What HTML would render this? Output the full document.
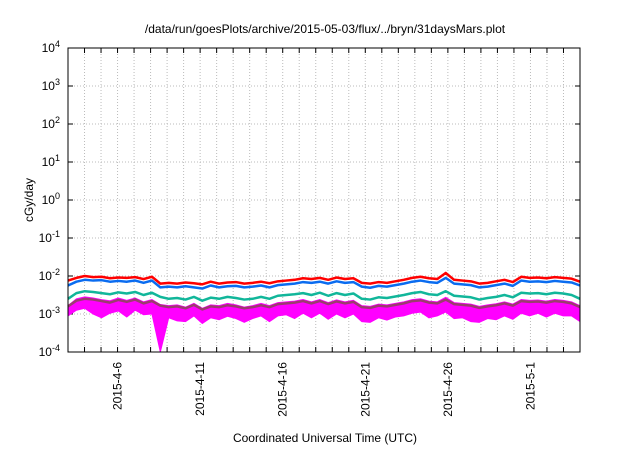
<!DOCTYPE html>
<html><head><meta charset="utf-8"><style>
body{margin:0;background:#fff;width:640px;height:448px;overflow:hidden}
svg{font-family:"Liberation Sans",sans-serif}
</style></head><body>
<svg id="c" width="640" height="448"></svg>
<script>
const yTicks=[4,3,2,1,0,-1,-2,-3,-4];
const xLabels=["2015-4-6","2015-4-11","2015-4-16","2015-4-21","2015-4-26","2015-5-1"];
const xLabelDays=[3,8,13,18,23,28];
const red=[-2.12,-2.05,-2.0,-2.03,-2.02,-2.06,-2.04,-2.05,-2.03,-2.08,-2.02,-2.2,-2.18,-2.2,-2.17,-2.19,-2.22,-2.15,-2.2,-2.17,-2.16,-2.2,-2.18,-2.15,-2.19,-2.14,-2.12,-2.1,-2.06,-2.08,-2.05,-2.1,-2.04,-2.08,-2.06,-2.18,-2.2,-2.16,-2.18,-2.14,-2.1,-2.05,-2.02,-2.06,-2.08,-1.92,-2.1,-2.12,-2.14,-2.2,-2.18,-2.14,-2.1,-2.16,-2.02,-2.05,-2.04,-2.06,-2.03,-2.05,-2.07,-2.15];
const blue=[-2.25,-2.15,-2.1,-2.12,-2.11,-2.15,-2.13,-2.15,-2.12,-2.18,-2.12,-2.3,-2.28,-2.3,-2.27,-2.3,-2.33,-2.25,-2.3,-2.27,-2.26,-2.3,-2.28,-2.25,-2.3,-2.24,-2.22,-2.2,-2.16,-2.18,-2.15,-2.2,-2.14,-2.18,-2.16,-2.28,-2.31,-2.26,-2.28,-2.24,-2.2,-2.15,-2.12,-2.16,-2.18,-2.05,-2.2,-2.22,-2.24,-2.3,-2.28,-2.24,-2.2,-2.26,-2.12,-2.15,-2.14,-2.16,-2.13,-2.15,-2.17,-2.25];
const green=[-2.6,-2.45,-2.4,-2.42,-2.45,-2.48,-2.43,-2.46,-2.42,-2.5,-2.44,-2.55,-2.6,-2.58,-2.62,-2.55,-2.65,-2.57,-2.6,-2.55,-2.58,-2.62,-2.6,-2.55,-2.6,-2.52,-2.5,-2.48,-2.45,-2.5,-2.44,-2.52,-2.45,-2.5,-2.46,-2.6,-2.62,-2.56,-2.58,-2.54,-2.5,-2.45,-2.42,-2.48,-2.5,-2.4,-2.52,-2.54,-2.56,-2.62,-2.58,-2.55,-2.5,-2.56,-2.44,-2.46,-2.45,-2.48,-2.44,-2.46,-2.5,-2.6];
const purple=[-2.8,-2.65,-2.6,-2.62,-2.66,-2.7,-2.63,-2.68,-2.62,-2.72,-2.66,-2.78,-2.82,-2.8,-2.85,-2.76,-2.88,-2.8,-2.82,-2.77,-2.8,-2.85,-2.82,-2.77,-2.82,-2.74,-2.72,-2.7,-2.66,-2.72,-2.66,-2.74,-2.67,-2.72,-2.68,-2.82,-2.84,-2.78,-2.8,-2.76,-2.72,-2.66,-2.64,-2.7,-2.72,-2.62,-2.74,-2.76,-2.78,-2.84,-2.8,-2.77,-2.72,-2.78,-2.66,-2.68,-2.67,-2.7,-2.66,-2.68,-2.72,-2.82];
const magentaHigh=[-2.78,-2.6,-2.55,-2.58,-2.62,-2.65,-2.58,-2.64,-2.58,-2.68,-2.62,-2.75,-2.78,-2.76,-2.82,-2.72,-2.85,-2.76,-2.78,-2.72,-2.76,-2.82,-2.78,-2.72,-2.78,-2.7,-2.68,-2.66,-2.62,-2.68,-2.62,-2.7,-2.63,-2.68,-2.64,-2.78,-2.8,-2.74,-2.76,-2.72,-2.68,-2.62,-2.6,-2.66,-2.68,-2.56,-2.7,-2.72,-2.74,-2.8,-2.76,-2.73,-2.68,-2.74,-2.62,-2.64,-2.63,-2.66,-2.62,-2.64,-2.68,-2.78];
const magentaLow=[-3.05,-2.9,-2.85,-3.0,-3.1,-2.98,-2.92,-3.08,-2.9,-3.02,-3.0,-4.0,-3.1,-3.18,-3.2,-3.05,-3.25,-3.1,-3.15,-3.06,-3.12,-3.22,-3.12,-3.05,-3.2,-3.05,-3.02,-3.12,-2.98,-3.1,-2.98,-3.14,-3.0,-3.1,-3.0,-3.2,-3.22,-3.1,-3.16,-3.08,-3.05,-2.98,-2.95,-3.1,-3.05,-2.95,-3.12,-3.1,-3.2,-3.22,-3.12,-3.15,-3.05,-3.14,-2.98,-3.05,-2.98,-3.08,-2.98,-3.05,-3.05,-3.2];
const NS="http://www.w3.org/2000/svg",svg=document.getElementById('c');
const L=68,R=580,T=48,B=352,DAYS=31;
const xs=d=>L+(d/DAYS)*(R-L);
const ys=v=>T+(4-v)/8*(B-T);
function mk(tag,attrs,parent){const e=document.createElementNS(NS,tag);for(const k in attrs)e.setAttribute(k,attrs[k]);(parent||svg).appendChild(e);return e;}
for(let d=1;d<DAYS;d++){const g=mk('line',{x1:xs(d),x2:xs(d),y1:T,y2:B,stroke:'#bbb','stroke-dasharray':'1,2'});

}
yTicks.forEach(v=>{if(v<4&&v>-4){const g=mk('line',{x1:L,x2:R,y1:ys(v),y2:ys(v),stroke:'#bbb','stroke-dasharray':'1,2'});

}
const t=mk('text',{x:L-8,y:ys(v)+4,'text-anchor':'end','font-size':'12'});


t.textContent='10';const s=mk('tspan',{dy:'-5','font-size':'9'},t);s.textContent=String(v);
for(const x of [L,R]){const tk=mk('line',{x1:x,x2:x+(x==L?5:-5),y1:ys(v),y2:ys(v),stroke:'#000'});

}});
for(let d=1;d<DAYS;d++){for(const [y,dy] of [[B,-5],[T,5]]){const tk=mk('line',{x1:xs(d),x2:xs(d),y1:y,y2:y+dy,stroke:'#000'});

}}
xLabels.forEach((lab,i)=>{const x=xs(xLabelDays[i])+4,y=B+10;const t=mk('text',{x:x,y:y,'text-anchor':'end','font-size':'12',transform:`rotate(-90 ${x} ${y})`});


t.textContent=lab;});
const px=i=>xs(i*DAYS/(red.length-1));
let pts=magentaHigh.map((v,i)=>px(i)+','+ys(v));
for(let i=magentaLow.length-1;i>=0;i--)pts.push(px(i)+','+ys(magentaLow[i]));
const area=mk('polygon',{points:pts.join(' '),fill:'#ff00ff',stroke:'#ff00ff','stroke-width':'1'});


[[purple,'#9b3c6e','purple-series'],[green,'#11b69a','green-series'],[blue,'#0a6cf0','blue-series'],[red,'#ff0000','red-series']].forEach(([arr,c,n])=>{
const p=mk('polyline',{points:arr.map((v,i)=>px(i)+','+ys(v)).join(' '),fill:'none',stroke:c,'stroke-width':'2.5','stroke-linejoin':'round'});

});
const fr=mk('rect',{x:L,y:T,width:R-L,height:B-T,fill:'none',stroke:'#000','stroke-width':'1'});


const tt=mk('text',{x:325,y:33,'text-anchor':'middle','font-size':'12'});


tt.textContent='/data/run/goesPlots/archive/2015-05-03/flux/../bryn/31daysMars.plot';
const yt=mk('text',{x:33,y:200,'text-anchor':'middle','font-size':'12',transform:'rotate(-90 33 200)'});


yt.textContent='cGy/day';
const xt=mk('text',{x:325,y:442,'text-anchor':'middle','font-size':'12'});


xt.textContent='Coordinated Universal Time (UTC)';
</script>
</body></html>
